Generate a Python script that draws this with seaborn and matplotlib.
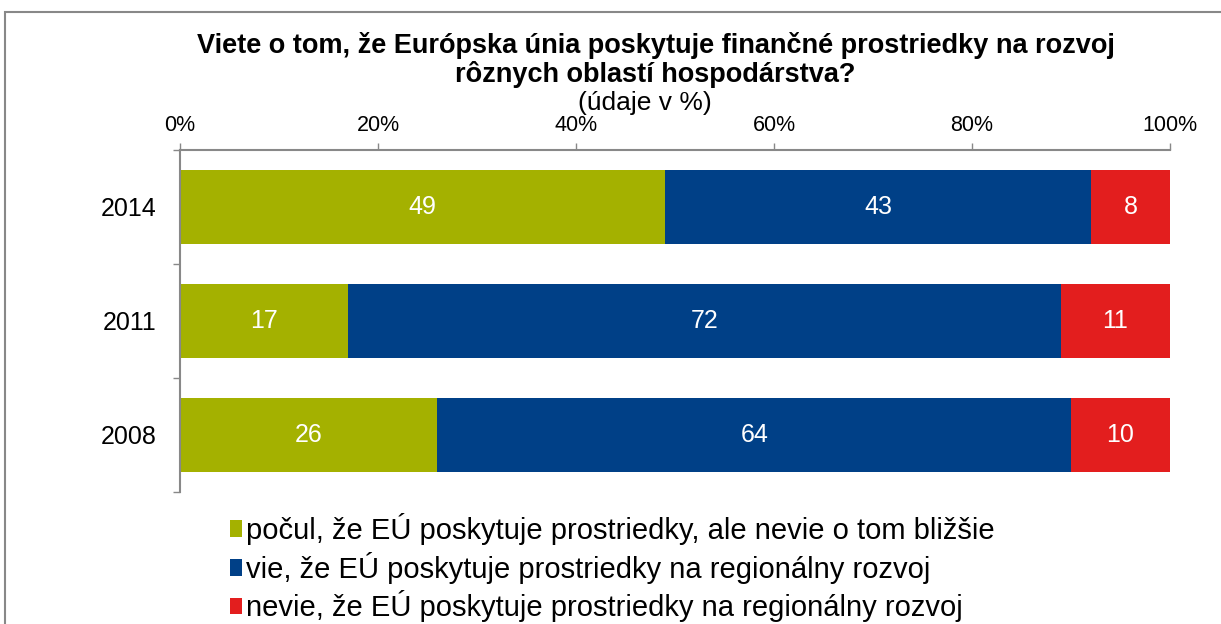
import matplotlib
matplotlib.use("Agg")
import matplotlib.pyplot as plt
import numpy as np
import pandas as pd
import seaborn as sns
from matplotlib.patches import Patch, Rectangle
from matplotlib.ticker import FixedLocator, PercentFormatter

# Data
years = ["2014", "2011", "2008"]
heard = [49, 17, 26]
knows = [43, 72, 64]
not_know = [8, 11, 10]
series_names = [
    "počul, že EÚ poskytuje prostriedky, ale nevie o tom bližšie",
    "vie, že EÚ poskytuje prostriedky na regionálny rozvoj",
    "nevie, že EÚ poskytuje prostriedky na regionálny rozvoj",
]
colors = ["#A4B100", "#004087", "#E31E1E"]
title = "Viete o tom, že Európska únia poskytuje finančné prostriedky na rozvoj\nrôznych oblastí hospodárstva?"
subtitle = "(údaje v %)"

sns.set_style("white")
plt.rcParams["font.family"] = ["Liberation Sans", "DejaVu Sans"]
plt.rcParams["text.color"] = "black"
plt.rcParams["xtick.labelcolor"] = "black"
plt.rcParams["ytick.labelcolor"] = "black"

df = pd.DataFrame({"year": years, "heard": heard, "knows": knows, "not_know": not_know})
df["c1"] = df["heard"]
df["c2"] = df["heard"] + df["knows"]
df["c3"] = df["c2"] + df["not_know"]

fig = plt.figure(figsize=(12.21, 6.24), dpi=100)
ax = fig.add_axes([180 / 1221, 1 - 492 / 624, 990 / 1221, 342 / 624])

# stacked bars drawn as overlaid cumulative totals (back to front)
for col, c in zip(["c3", "c2", "c1"], colors[::-1]):
    sns.barplot(data=df, x=col, y="year", order=years, color=c, orient="h",
                width=0.65, saturation=1, ax=ax, edgecolor="none")

# segment labels
for i, row in df.iterrows():
    starts = [0, row["c1"], row["c2"]]
    vals = [row["heard"], row["knows"], row["not_know"]]
    for s, v in zip(starts, vals):
        ax.text(s + v / 2, i, f"{v}", ha="center", va="center",
                color="white", fontsize=18)

ax.set_xlim(0, 100)
ax.set_ylim(2.5, -0.5)
ax.set_xlabel("")
ax.set_ylabel("")
ax.xaxis.set_major_locator(FixedLocator([0, 20, 40, 60, 80, 100]))
ax.xaxis.set_major_formatter(PercentFormatter(decimals=0))
ax.xaxis.tick_top()
ax.tick_params(axis="x", which="major", direction="out", length=5, width=1,
               color="#888888", labelsize=15.5, pad=5)
ax.tick_params(axis="y", which="major", length=0, labelsize=18, pad=17)
ax.yaxis.set_minor_locator(FixedLocator([-0.5, 0.5, 1.5, 2.5]))
ax.tick_params(axis="y", which="minor", direction="out", length=5, width=1,
               color="#888888", left=True)

for side in ["right", "bottom"]:
    ax.spines[side].set_visible(False)
for side in ["top", "left"]:
    ax.spines[side].set_color("#888888")
    ax.spines[side].set_linewidth(1.5)

fig.text(0.537, 0.904, title, ha="center", va="center", fontsize=19.5,
         fontweight="bold", linespacing=1.08)
fig.text(0.528, 0.835, subtitle, ha="center", va="center", fontsize=19)

handles = [Patch(facecolor=c, edgecolor="none") for c in colors]
fig.legend(handles, series_names, loc="upper left",
           bbox_to_anchor=(230 / 1221, 1 - 513 / 624), frameon=False,
           fontsize=21, handlelength=0.42, handleheight=0.5, handletextpad=0.12,
           labelspacing=0.23, borderpad=0, borderaxespad=0)

# outer chart border
fig.patches.append(Rectangle((5 / 1221, -0.1), 1.2, 1.1 - 12 / 624,
                             transform=fig.transFigure, fill=False,
                             edgecolor="#888888", linewidth=1.5))

fig.savefig("out.png", dpi=100)
